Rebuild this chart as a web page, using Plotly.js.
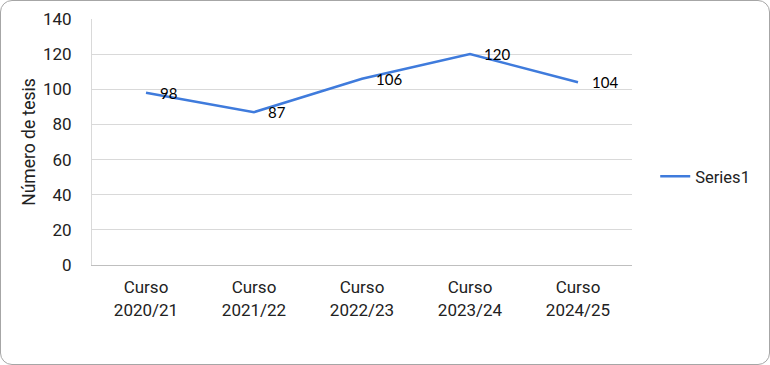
<!DOCTYPE html>
<html><head><meta charset="utf-8">
<script src="https://cdn.plot.ly/plotly-3.0.1.min.js"></script>
<style>
html,body{margin:0;padding:0;background:#fff;}
#wrap{position:relative;width:770px;height:365px;}
#chart{position:absolute;left:0;top:0;width:770px;height:365px;}
#frame{position:absolute;left:0;top:0;width:768px;height:363px;border:1px solid #a6a6a6;border-radius:12px;pointer-events:none;}
</style></head>
<body>
<div id="wrap"><div id="chart"></div><div id="frame"></div></div>
<script>
var categories = ["Curso<br>2020/21","Curso<br>2021/22","Curso<br>2022/23","Curso<br>2023/24","Curso<br>2024/25"];
var series1 = [98, 87, 106, 120, 104];
var seriesName = "Series1";
var yTicks = [0,20,40,60,80,100,120,140];

var trace = {
  x: categories, y: series1, name: seriesName, type: 'scatter', mode: 'lines',
  line: {color: '#3f7bdc', width: 2.5}, showlegend: true
};
var annotations = categories.map(function(c,i){
  return {x: c, y: series1[i], xref:'x', yref:'y', text: String(series1[i]), showarrow:false,
    xanchor:'left', yanchor:'middle', xshift: 12, yshift: 0,
    font:{family:'Lato, "Open Sans", sans-serif', size:15, color:'#000'}};
});
var layout = {
  width: 770, height: 365,
  margin: {l: 92, r: 138, t: 19, b: 100},
  paper_bgcolor: 'rgba(0,0,0,0)', plot_bgcolor: '#fff',
  font: {family: 'Roboto, sans-serif', size: 17, color: '#222'},
  xaxis: {type:'category', range:[-0.5,4.5], showgrid:false, showline:true, linecolor:'#bfbfbf', linewidth:1,
    ticks:'outside', ticklen:7, tickcolor:'rgba(0,0,0,0)', tickfont:{size:17, color:'#222'}, fixedrange:true},
  yaxis: {range:[0,140], tickvals: yTicks, showgrid:true, gridcolor:'#d9d9d9', gridwidth:1, zeroline:false,
    showline:true, linecolor:'#d9d9d9', ticks:'outside', ticklen:16, tickcolor:'rgba(0,0,0,0)',
    tickfont:{size:17, color:'#222'},
    title:{text:'Número de tesis', font:{size:17.5, color:'#222'}, standoff: 2}},
  legend: {x: 1.043, y: 0.36, xanchor:'left', yanchor:'middle', font:{size:16.5, color:'#222'}, bgcolor:'rgba(0,0,0,0)'},
  annotations: annotations,
  showlegend: true
};
Plotly.newPlot('chart', [trace], layout, {displayModeBar:false, staticPlot:true});
</script>
</body></html>
